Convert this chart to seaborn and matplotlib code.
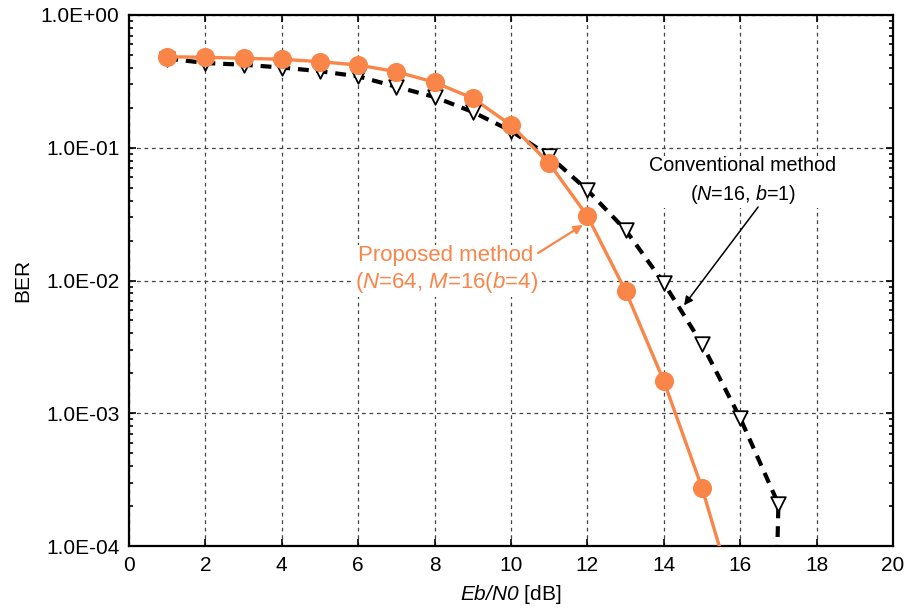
import numpy as np
import pandas as pd
import matplotlib
matplotlib.use("Agg")
import matplotlib.pyplot as plt
import seaborn as sns
from matplotlib.ticker import FuncFormatter, LogLocator, NullFormatter

# ---- data ----
ebn0 = [1, 2, 3, 4, 5, 6, 7, 8, 9, 10, 11, 12, 13, 14, 15, 16, 17]
ber_proposed = [0.485, 0.480, 0.472, 0.464, 0.445, 0.420, 0.374, 0.311, 0.236,
                0.148, 0.0763, 0.0306, 0.00834, 0.00175, 0.000274]
ber_conventional = [0.47, 0.435, 0.422, 0.402, 0.377, 0.345, 0.288, 0.241, 0.186,
                    0.134, 0.0867, 0.048, 0.024, 0.00957, 0.00332, 0.00092, 0.000207]
# where the drawn curves leave the bottom of the plot
proposed_tail = (15.55, 8e-5)
conventional_tail = (16.95, 5e-5)

xticks = [0, 2, 4, 6, 8, 10, 12, 14, 16, 18, 20]
yticks = [1e-4, 1e-3, 1e-2, 1e-1, 1e0]

orange = "#F98548"

sns.set_style("ticks")
plt.rcParams["font.family"] = ["Liberation Sans", "DejaVu Sans"]
plt.rcParams["mathtext.fontset"] = "custom"
plt.rcParams["mathtext.rm"] = "Liberation Sans:italic"
plt.rcParams["mathtext.it"] = "Liberation Sans:italic"
for k in ["text.color", "axes.labelcolor", "xtick.color", "ytick.color",
          "axes.edgecolor"]:
    plt.rcParams[k] = "black"

fig = plt.figure(figsize=(9.11, 6.16), dpi=100)
ax = fig.add_axes([129 / 911, 1 - 546 / 616, (893 - 129) / 911, (546 - 15) / 616])

n_p = len(ber_proposed)
df_p = pd.DataFrame({"x": ebn0[:n_p] + [proposed_tail[0]],
                     "y": ber_proposed + [proposed_tail[1]]})
df_c = pd.DataFrame({"x": ebn0 + [conventional_tail[0]],
                     "y": ber_conventional + [conventional_tail[1]]})

sns.lineplot(data=df_c, x="x", y="y", ax=ax, color="black", lw=3.0,
             sort=False, estimator=None, zorder=3)
ax.lines[-1].set_dashes([2.6, 1.9])
sns.lineplot(data=df_p, x="x", y="y", ax=ax, color=orange, lw=2.4,
             sort=False, estimator=None, zorder=4)

sns.scatterplot(x=ebn0, y=ber_conventional, ax=ax, marker="v", s=110,
                facecolor="white", edgecolor="black", linewidth=1.3, zorder=5)
sns.scatterplot(x=ebn0[:n_p], y=ber_proposed, ax=ax, marker="o", s=190,
                color=orange, edgecolor=orange, linewidth=0, zorder=6)

ax.set_yscale("log")
ax.set_xlim(0, 20)
ax.set_ylim(1e-4, 1e0)
ax.set_xticks(xticks)
ax.set_yticks(yticks)
ax.yaxis.set_major_formatter(FuncFormatter(
    lambda v, p: "1.0E{:+03d}".format(int(round(np.log10(v))))))
ax.yaxis.set_minor_locator(LogLocator(base=10, subs=np.arange(2, 10)))
ax.yaxis.set_minor_formatter(NullFormatter())

ax.grid(True, which="major", ls=(0, (3, 3)), color="#444444", lw=0.9)
ax.tick_params(which="both", direction="in", top=True, right=True,
               labelsize=15, width=1.2)
ax.tick_params(which="major", length=5, pad=7)
ax.tick_params(which="minor", length=3)
for s in ax.spines.values():
    s.set_linewidth(1.6)

ax.set_xlabel(r"$Eb/N0$ [dB]", fontsize=15, labelpad=6)
ax.set_ylabel("BER", fontsize=15, labelpad=6)

box = dict(boxstyle="square,pad=0.12", fc="white", ec="none")
ax.text(16.07, 0.056, "Conventional method\n" + r"($N$=16, $b$=1)",
        ha="center", va="center", fontsize=14.2, linespacing=1.45,
        bbox=box, zorder=2)
ax.annotate("", xy=(14.53, 0.0065), xytext=(16.47, 0.0358),
            arrowprops=dict(arrowstyle="-|>", color="black", lw=1.1,
                            shrinkA=0, shrinkB=0, mutation_scale=13))
ax.text(8.3, 0.0120, "Proposed method\n" + r"($N$=64, $M$=16($b$=4)",
        ha="center", va="center", fontsize=16, linespacing=1.2, color=orange,
        bbox=box, zorder=2)
ax.annotate("", xy=(11.88, 0.0262), xytext=(10.71, 0.0161),
            arrowprops=dict(arrowstyle="-|>", color=orange, lw=1.6,
                            shrinkA=0, shrinkB=0, mutation_scale=13))

fig.savefig("out.png", dpi=100)
